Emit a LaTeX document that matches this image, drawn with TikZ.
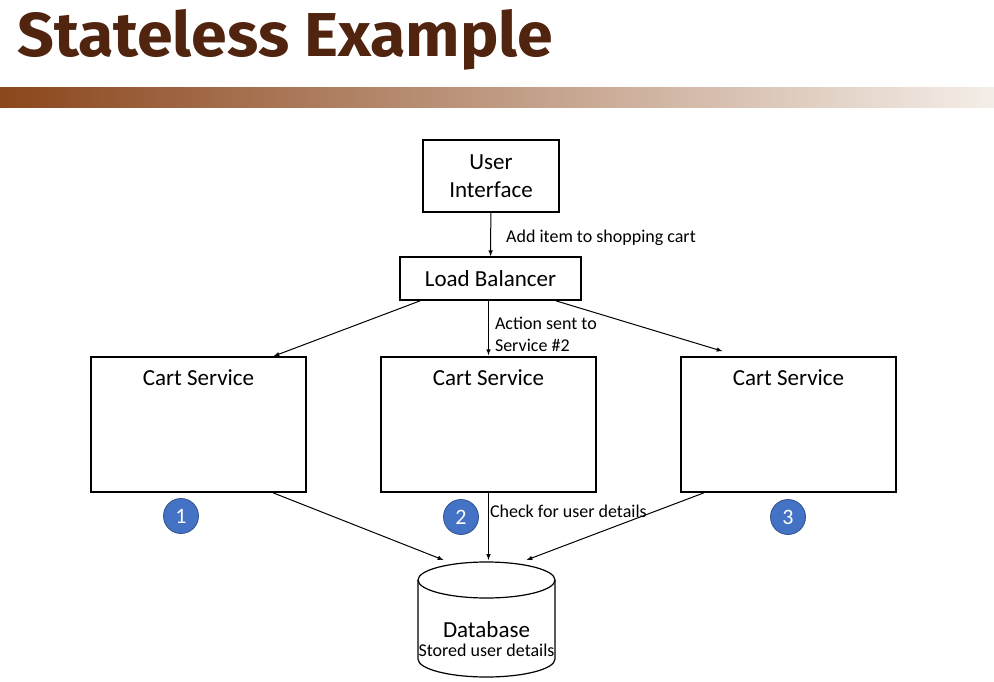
\documentclass[tikz,border=0pt]{standalone}
\usepackage{fontspec}
\setmainfont{Carlito}
\newfontfamily\titlefont{Fira Sans}
\usetikzlibrary{arrows,calc,positioning,shapes.geometric}
\definecolor{titlebrown}{RGB}{80,36,14}
\definecolor{barleft}{RGB}{139,70,28}
\definecolor{barright}{RGB}{244,238,232}
\definecolor{numblue}{RGB}{68,114,196}
\definecolor{numedge}{RGB}{47,82,143}
\tikzset{%
	box/.style     = {draw, rectangle, line width=1.6pt, align=center, font=\fontsize{23}{28}\selectfont},
	cartbox/.style = {box, minimum width=215pt, minimum height=135pt},
	dbline/.style  = {line width=1.2pt},
	stepnum/.style = {circle, draw=numedge, line width=0.8pt, fill=numblue, text=white, minimum size=35pt, inner sep=0pt, font=\fontsize{22}{24}\selectfont},
	arrow/.style   = {line width=1pt,-latex},
	lbl/.style     = {font=\fontsize{18}{22}\selectfont, align=left, inner sep=2pt},
}
\begin{document}
\begin{tikzpicture}[x=1pt,y=-1pt]
	\useasboundingbox (0,0) rectangle (994,682);
	\node[anchor=base west, text=titlebrown, inner sep=0pt, xscale=1.04, font=\titlefont\bfseries\fontsize{62}{70}\selectfont] (title) at (17,57) {Stateless Example};
	\shade[left color=barleft, right color=barright] (0,88) rectangle (994,108);  % bar under title
	% boxes
	\node[box, minimum width=136pt, minimum height=72pt] (ui) at (491,176) {User\\Interface};
	\node[box, minimum width=181pt, minimum height=43pt] (lb) at (490.5,278.5) {Load Balancer};
	\node[cartbox, label={[anchor=north, yshift=-10pt, font=\fontsize{23}{28}\selectfont]north:Cart Service}] (c1) at (198.5,424.5) {};
	\node[cartbox, label={[anchor=north, yshift=-10pt, font=\fontsize{23}{28}\selectfont]north:Cart Service}] (c2) at (488.5,424.5) {};
	\node[cartbox, label={[anchor=north, yshift=-10pt, font=\fontsize{23}{28}\selectfont]north:Cart Service}] (c3) at (788.5,424.5) {};
	\node[stepnum] (n1) at (181,516) {1};
	\node[stepnum] (n2) at (461,517) {2};
	\node[stepnum] (n3) at (788,517) {3};
	% database cylinder
	\coordinate (dbtop) at (486.5,580);
	\draw[dbline] (dbtop) ellipse [x radius=68.5pt, y radius=18pt];
	\draw[dbline] ($(dbtop)+(-68.5,0)$) -- ++(0,79) arc[start angle=180, end angle=360, x radius=68.5pt, y radius=18pt] -- ($(dbtop)+(68.5,0)$);
	\node[align=center, inner sep=0pt, font=\fontsize{18}{19}\selectfont] (db) at (486.5,639) {{\fontsize{23}{19}\selectfont Database}\\Stored user details};
	% arrows
	\draw[arrow] (ui) -- node[lbl, right, xshift=13pt, yshift=-3pt] {Add item to shopping cart} (lb);
	\draw[arrow] ($(lb.south west)+(21,0)$) -- ($(c1.north)+(75,0)$);
	\draw[arrow] (c2.north |- lb.south) -- node[lbl, right, xshift=4pt, yshift=-6pt] {Action sent to\\Service \#2} ($(c2.north)+(0,-1)$);
	\draw[arrow] ($(lb.south east)+(-26,0)$) -- ($(c3.north)+(-66,-5)$);
	\draw[arrow] ($(c1.south)+(74.5,0)$) -- ($(dbtop)+(-43,-20)$);
	\draw[arrow] (c2.south) -- node[lbl, pos=0.28, right, xshift=-1pt] {Check for user details} (c2.south |- {$(dbtop)+(0,-20)$});
	\draw[arrow] ($(c3.south)+(-84.5,0)$) -- ($(dbtop)+(40,-20)$);
\end{tikzpicture}
\end{document}
